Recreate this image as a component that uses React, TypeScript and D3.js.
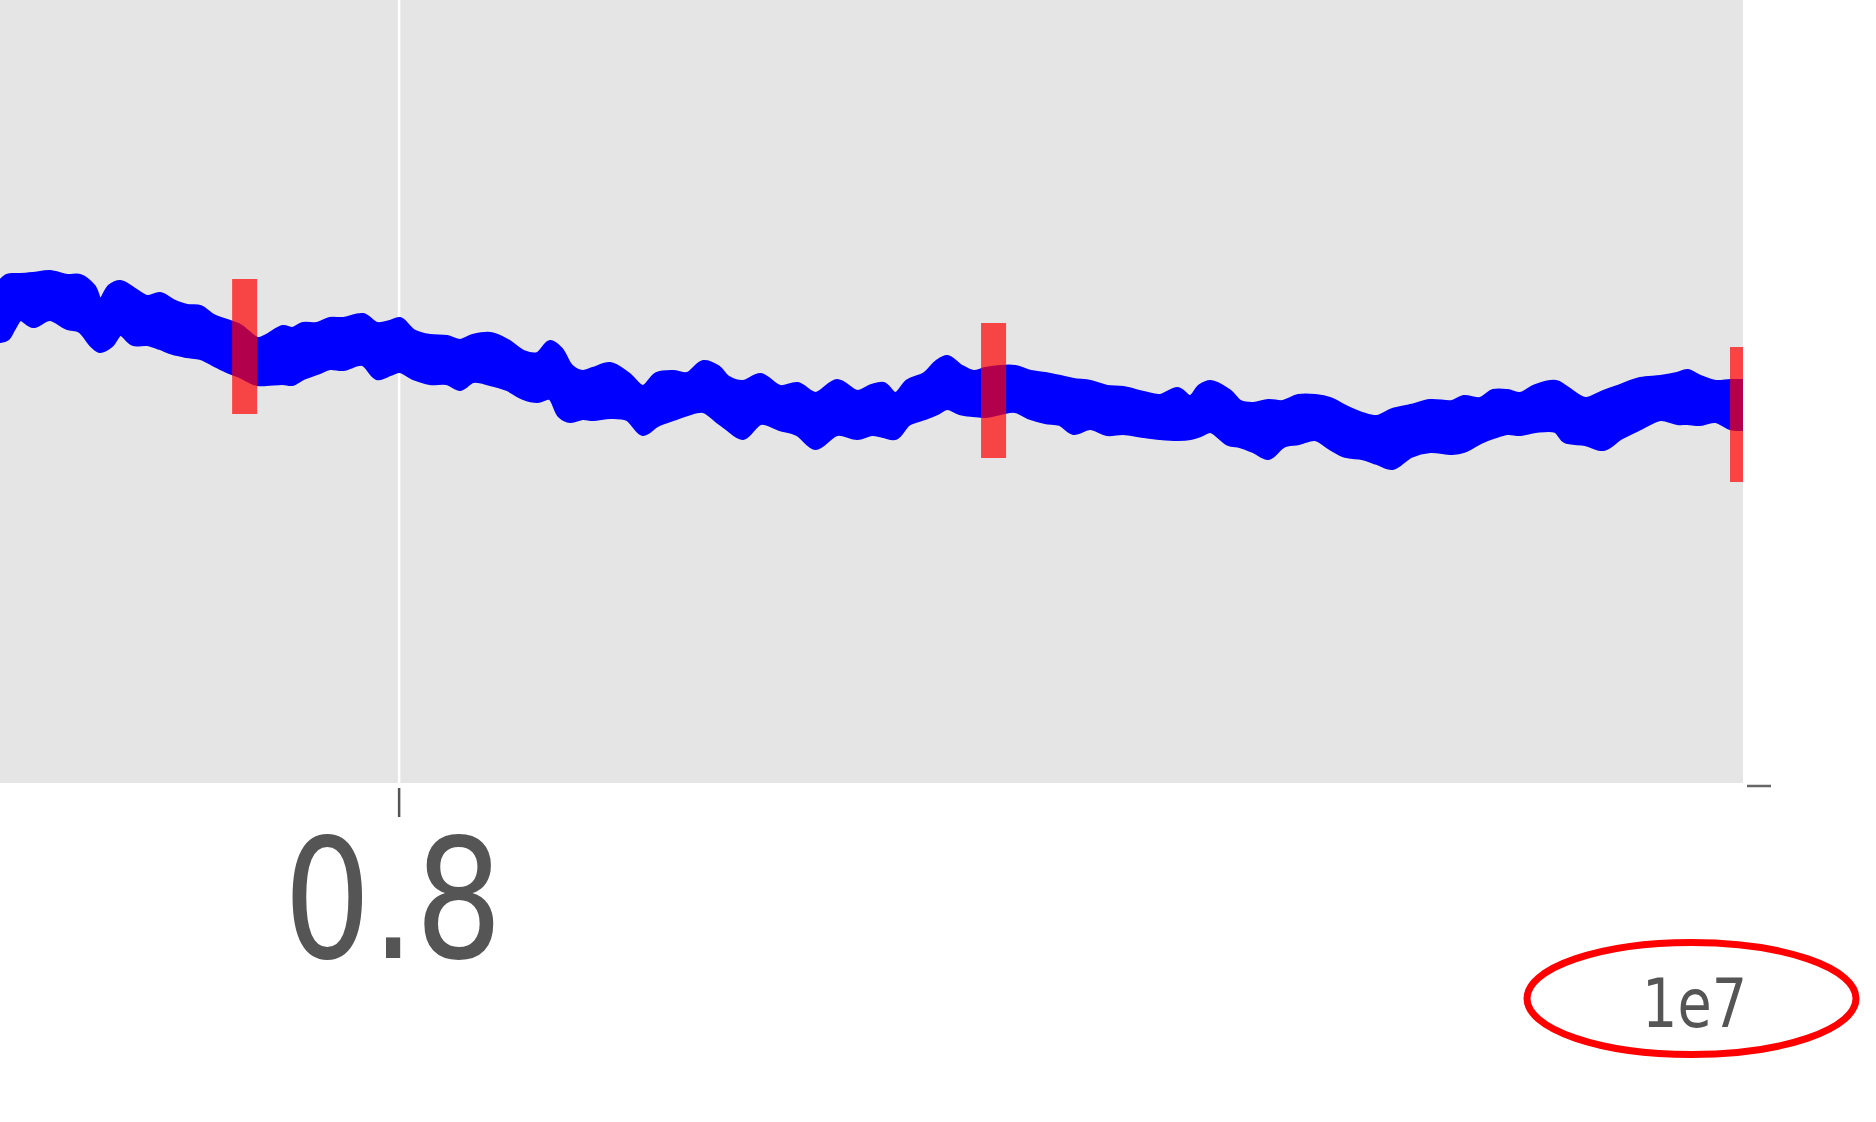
import React from 'react';
import * as d3 from 'd3';

// x positions in units of 1e7
const xs = [
  0.7406, 0.7416, 0.7425, 0.7436, 0.7455, 0.7480, 0.7506, 0.7525, 0.7544, 0.7555,
  0.7570, 0.7585, 0.7604, 0.7625, 0.7644, 0.7663, 0.7684, 0.7704, 0.7723, 0.7744,
  0.7763, 0.7789, 0.7803, 0.7827, 0.7841, 0.7857, 0.7878, 0.7897, 0.7917, 0.7946,
  0.7967, 0.7987, 0.8001, 0.8021, 0.8046, 0.8071, 0.8091, 0.8110, 0.8136, 0.8161,
  0.8185, 0.8206, 0.8225, 0.8240, 0.8255, 0.8273, 0.8289, 0.8314, 0.8340, 0.8363,
  0.8384, 0.8408, 0.8429, 0.8453, 0.8474, 0.8488, 0.8512, 0.8538, 0.8567, 0.8593,
  0.8620, 0.8652, 0.8682, 0.8704, 0.8721, 0.8739, 0.8758, 0.8783, 0.8801, 0.8816,
  0.8835, 0.8855, 0.8873, 0.8895, 0.8917, 0.8940, 0.8962, 0.8984, 0.9004, 0.9029,
  0.9054, 0.9078, 0.9108, 0.9133, 0.9159, 0.9178, 0.9193, 0.9208, 0.9235, 0.9252,
  0.9272, 0.9294, 0.9316, 0.9339, 0.9364, 0.9386, 0.9409, 0.9434, 0.9456, 0.9479,
  0.9506, 0.9535, 0.9568, 0.9585, 0.9610, 0.9629, 0.9650, 0.9669, 0.9692, 0.9722,
  0.9736, 0.9766, 0.9793, 0.9818, 0.9848, 0.9878, 0.9903, 0.9918, 0.9937, 0.9960,
  0.9982, 1.0000,
];

// upper and lower edge of the noisy blue trace
const upper = [
  50.0, 50.6, 50.7, 50.7, 50.8, 51.0, 50.6, 50.6, 49.6, 48.1,
  49.6, 50.0, 49.3, 48.5, 48.8, 48.1, 47.6, 47.5, 46.6, 46.1,
  45.6, 44.3, 44.6, 45.5, 45.3, 45.8, 45.8, 46.3, 46.3, 46.7,
  45.8, 46.0, 46.3, 45.1, 44.6, 44.5, 44.1, 44.6, 44.8, 44.1,
  43.0, 42.8, 44.0, 43.3, 41.6, 41.0, 41.3, 41.8, 40.8, 39.5,
  40.8, 41.0, 40.8, 42.0, 41.5, 40.5, 40.0, 40.7, 39.5, 39.8,
  38.8, 40.1, 39.0, 39.6, 39.8, 38.8, 40.1, 40.8, 42.0, 42.5,
  41.6, 41.0, 41.3, 41.5, 41.5, 41.0, 40.8, 40.5, 40.2, 40.0,
  39.5, 39.4, 38.9, 38.6, 39.3, 38.5, 39.6, 40.0, 39.1, 38.0,
  37.8, 38.1, 38.0, 38.6, 38.6, 38.3, 37.5, 36.8, 36.5, 37.2,
  37.6, 38.1, 38.0, 38.5, 38.3, 39.1, 39.1, 38.8, 39.6, 40.0,
  39.5, 38.3, 39.0, 39.6, 40.3, 40.5, 40.8, 41.1, 40.5, 40.0,
  40.1, 40.1,
];

const lower = [
  44.3, 44.5, 45.5, 46.5, 45.8, 46.5, 45.6, 45.3, 43.8, 43.3,
  43.8, 45.0, 44.0, 44.0, 43.6, 43.1, 42.8, 42.6, 42.0, 41.3,
  40.8, 40.0, 40.0, 40.1, 40.0, 40.6, 41.1, 41.6, 41.5, 42.0,
  40.6, 41.0, 41.3, 40.6, 40.1, 40.1, 39.5, 40.3, 40.0, 39.5,
  38.6, 38.3, 38.6, 36.8, 36.3, 36.6, 36.5, 36.7, 36.5, 35.0,
  35.9, 36.5, 37.0, 37.3, 36.3, 35.6, 34.6, 36.1, 35.5, 35.0,
  33.6, 35.0, 34.6, 35.0, 34.8, 34.6, 36.0, 36.6, 37.1, 37.6,
  37.1, 36.9, 36.8, 37.1, 37.3, 36.6, 36.2, 36.0, 35.1, 35.6,
  35.0, 35.1, 34.8, 34.6, 34.5, 34.6, 34.9, 35.3, 34.0, 33.8,
  33.3, 32.6, 33.8, 34.1, 34.5, 33.6, 32.8, 32.6, 32.1, 31.6,
  32.8, 33.3, 33.1, 33.3, 34.2, 34.7, 35.1, 35.0, 35.3, 35.3,
  34.3, 34.0, 33.5, 34.6, 35.6, 36.5, 36.1, 36.1, 36.0, 36.3,
  35.6, 35.5,
];

// red marker bars
const barX = [0.777, 0.8885, 1.0];
const barLo = [36.9, 32.5, 30.1];
const barHi = [50.4, 46.0, 43.6];

const xTicks = [0.8];
const offsetLabel = '1e7';

const W = 1876;
const H = 1122;
const plotW = 1743;
const plotH = 783;

const App: React.FC = () => {
  const x = d3.scaleLinear().domain([0.74058, 1.0]).range([0, 1742.5]);
  const y = d3.scaleLinear().domain([0, 78.3]).range([plotH, 0]);

  const pts = xs.map((v, i) => ({ x: v, hi: upper[i], lo: lower[i] }));
  const area = d3.area<{ x: number; hi: number; lo: number }>()
    .x(d => x(d.x))
    .y0(d => y(d.lo))
    .y1(d => y(d.hi))
    .curve(d3.curveCatmullRom);

  const font = "'DejaVu Sans', sans-serif";

  return (
    <svg width={W} height={H} style={{ position: 'absolute', left: 0, top: 0, background: '#fff' }}>
      <defs>
        <clipPath id="plotclip">
          <rect x={0} y={0} width={plotW} height={plotH} />
        </clipPath>
      </defs>
      <rect x={0} y={0} width={plotW} height={plotH} fill="#e5e5e5" />
      {xTicks.map(t => (
        <line key={'g' + t} x1={x(t)} x2={x(t)} y1={0} y2={plotH} stroke="#fff" strokeWidth={2.5} />
      ))}
      <g clipPath="url(#plotclip)">
        <path d={area(pts) || ''} fill="#0000ff" stroke="#0000ff" strokeWidth={6} strokeLinejoin="round" />
        {barX.map((b, i) => (
          <line key={'b' + i} x1={x(b)} x2={x(b)} y1={y(barLo[i])} y2={y(barHi[i])}
            stroke="#ff0000" strokeOpacity={0.7} strokeWidth={25} />
        ))}
      </g>
      {xTicks.map(t => (
        <g key={'t' + t}>
          <line x1={x(t)} x2={x(t)} y1={plotH + 5} y2={plotH + 34} stroke="#555" strokeWidth={2.5} />
          <text transform={`translate(${x(t) - 6},958) scale(0.83,1)`} textAnchor="middle"
            fontFamily={font} fontSize={166} fill="#555">{t.toFixed(1)}</text>
        </g>
      ))}
      <line x1={1747} x2={1771} y1={786} y2={786} stroke="#666" strokeWidth={2.5} />
      <text transform="translate(1747,1027) scale(0.83,1)" textAnchor="end"
        fontFamily={font} fontSize={67} fill="#555">{offsetLabel}</text>
      <ellipse cx={1691.5} cy={998.5} rx={164.5} ry={56} fill="none" stroke="#ff0000" strokeWidth={7} />
    </svg>
  );
};

export default App;
